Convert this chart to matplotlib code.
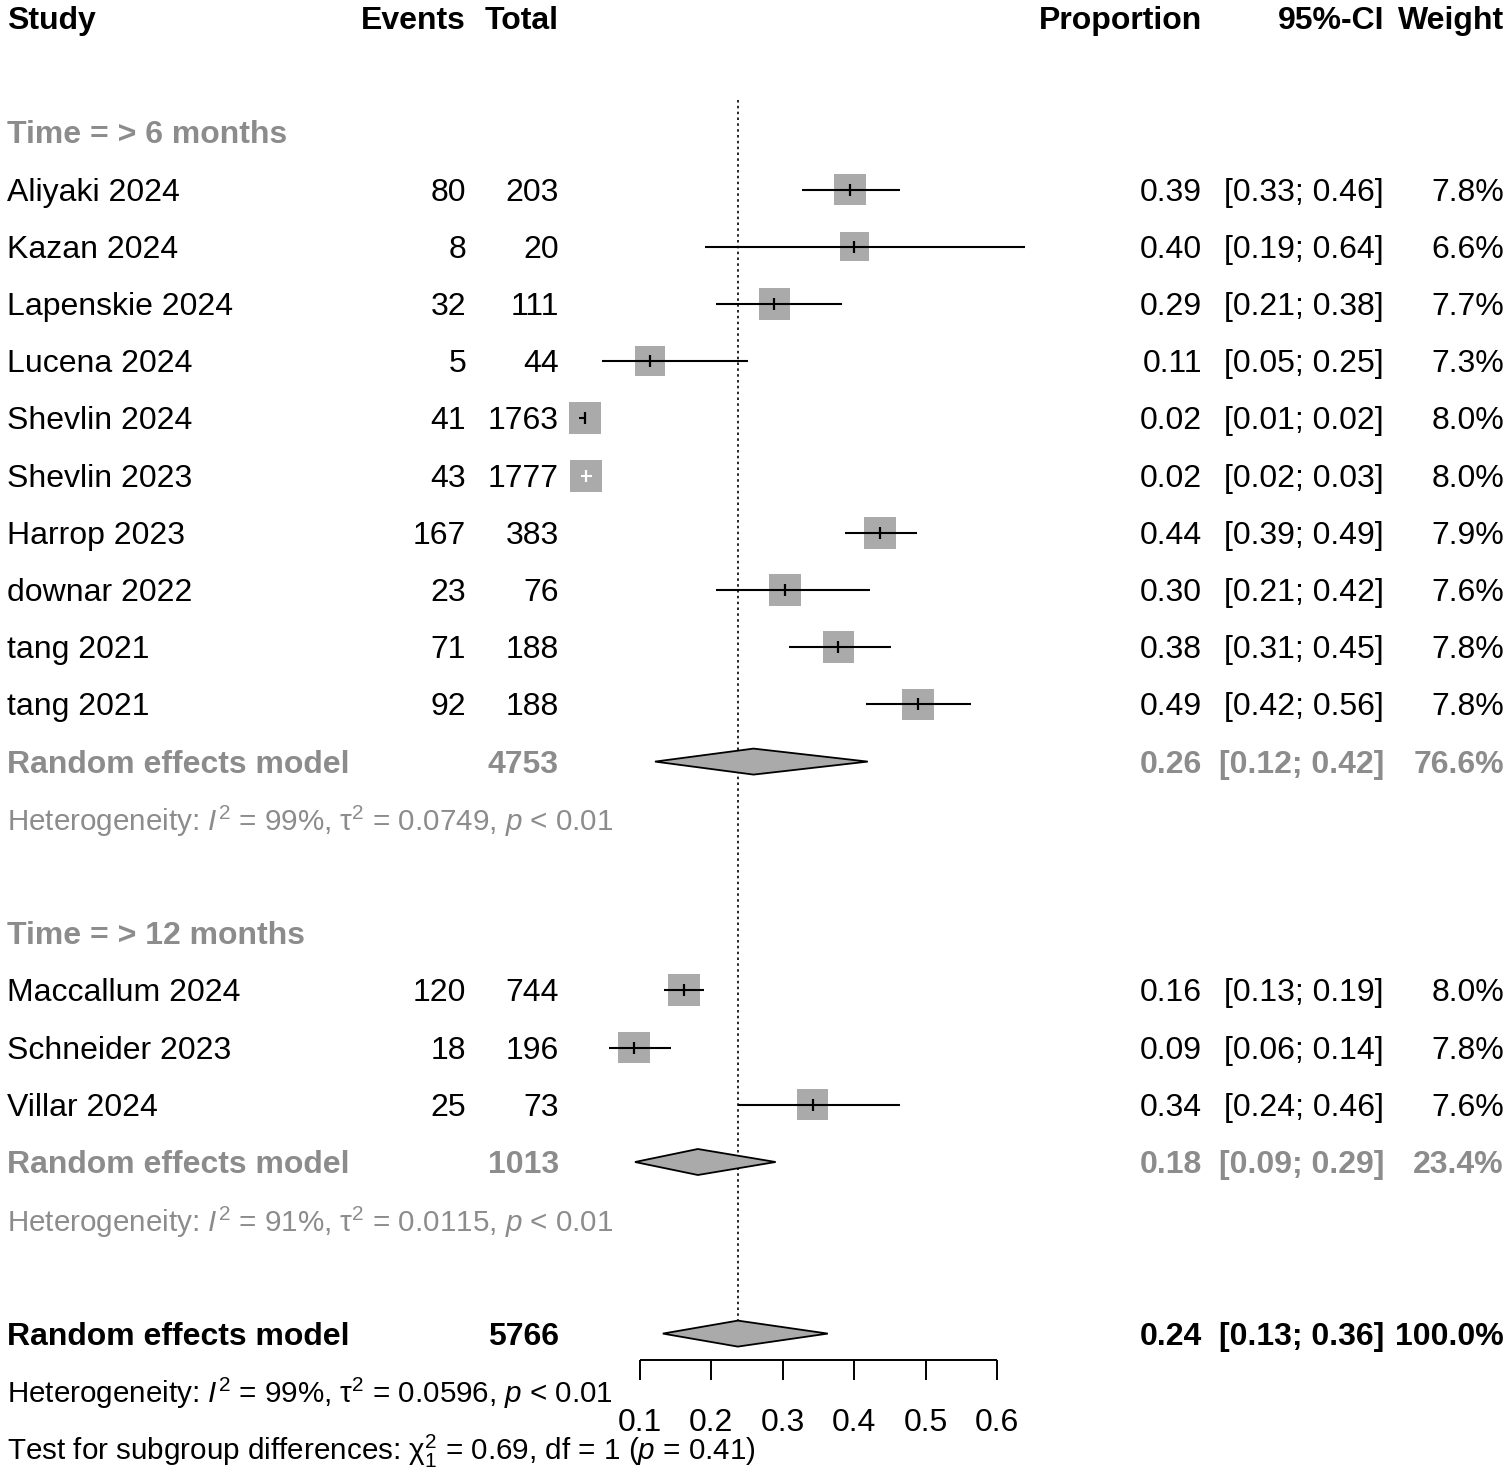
import numpy as np
import matplotlib
matplotlib.use("Agg")
import matplotlib.pyplot as plt
from matplotlib.patches import Rectangle, Polygon

plt.rcParams['font.family'] = ['Liberation Sans', 'DejaVu Sans']
plt.rcParams['mathtext.fontset'] = 'custom'
plt.rcParams['mathtext.rm'] = 'Liberation Sans'
plt.rcParams['mathtext.it'] = 'Liberation Sans:italic'
plt.rcParams['mathtext.bf'] = 'Liberation Sans:bold'

# ---- data ----
group_names = ["Time = > 6 months", "Time = > 12 months"]

studies_1 = ["Aliyaki 2024", "Kazan 2024", "Lapenskie 2024", "Lucena 2024",
             "Shevlin 2024", "Shevlin 2023", "Harrop 2023", "downar 2022",
             "tang 2021", "tang 2021"]
events_1 = [80, 8, 32, 5, 41, 43, 167, 23, 71, 92]
total_1 = [203, 20, 111, 44, 1763, 1777, 383, 76, 188, 188]
prop_1 = [0.394, 0.400, 0.288, 0.114, 0.023, 0.024, 0.436, 0.303, 0.378, 0.489]
lo_1 = [0.327, 0.191, 0.207, 0.047, 0.014, 0.018, 0.387, 0.207, 0.309, 0.417]
hi_1 = [0.464, 0.639, 0.383, 0.251, 0.024, 0.033, 0.488, 0.422, 0.452, 0.564]
weight_1 = [7.8, 6.6, 7.7, 7.3, 8.0, 8.0, 7.9, 7.6, 7.8, 7.8]

studies_2 = ["Maccallum 2024", "Schneider 2023", "Villar 2024"]
events_2 = [120, 18, 25]
total_2 = [744, 196, 73]
prop_2 = [0.161, 0.092, 0.342]
lo_2 = [0.134, 0.057, 0.237]
hi_2 = [0.190, 0.143, 0.464]
weight_2 = [8.0, 7.8, 7.6]

# random effects pooled estimates (subgroup 1, subgroup 2, overall)
pooled_n = [4753, 1013, 5766]
pooled_est = [0.259, 0.181, 0.237]
pooled_lo = [0.121, 0.093, 0.132]
pooled_hi = [0.419, 0.290, 0.363]
pooled_w = [76.6, 23.4, 100.0]
het_i2 = [99, 91, 99]
het_tau2 = ["0.0749", "0.0115", "0.0596"]

axis_ticks = [0.1, 0.2, 0.3, 0.4, 0.5, 0.6]

# ---- layout ----
W, H = 1512, 1474
fig = plt.figure(figsize=(W / 100, H / 100), dpi=100)
ax = fig.add_axes([0, 0, 1, 1])
x0px, pxper = 568.6, 714.0      # pixel of p=0, pixels per unit proportion
y0px, rowpx = 18.0, 57.2        # pixel of row 0, pixels per row
ax.set_xlim(-x0px / pxper, (W - x0px) / pxper)
ax.set_ylim((H - y0px) / rowpx, -y0px / rowpx)
ax.axis('off')

ty = ax.get_yaxis_transform()   # x in axes fraction, y in rows
FS = 23
FS_HET = 21.3
GRAY = '#8C8C8C'
SQ = '#AAAAAA'
DY = 3.0 / rowpx                # nudge text down to sit like R's text

col_study = 7 / W
col_events = 466 / W
col_total = 559 / W
col_prop = 1202 / W
col_ci = 1384 / W
col_w = 1504 / W


def txt(x, y, s, ha='left', fs=FS, **kw):
    ax.text(x, y + DY, s, ha=ha, va='center', transform=ty, fontsize=fs, **kw)


# header
txt(col_study, 0, "Study", fontweight='bold')
txt(col_events, 0, "Events", ha='right', fontweight='bold')
txt(col_total, 0, "Total", ha='right', fontweight='bold')
txt(col_prop, 0, "Proportion", ha='right', fontweight='bold')
txt(col_ci, 0, "95%-CI", ha='right', fontweight='bold')
txt(col_w, 0, "Weight", ha='right', fontweight='bold')

maxw = 8.0
sq_px = 32.0


def draw_study(r, name, ev, tot, p, lo, hi, w, inner='black'):
    txt(col_study, r, name)
    txt(col_events, r, str(ev), ha='right')
    txt(col_total, r, str(tot), ha='right')
    txt(col_prop, r, "%.2f" % p, ha='right')
    txt(col_ci, r, "[%.2f; %.2f]" % (lo, hi), ha='right')
    txt(col_w, r, "%.1f%%" % w, ha='right')
    side = sq_px * np.sqrt(w / maxw)
    dx = side / pxper
    dy = side / rowpx
    ax.add_patch(Rectangle((p - dx / 2, r - dy / 2), dx, dy, facecolor=SQ,
                           edgecolor='none', zorder=2))
    ax.plot([lo, hi], [r, r], color=inner, lw=1.5, zorder=3,
            solid_capstyle='butt')
    ax.plot([p], [r], marker='|', color=inner, markersize=9, mew=1.6, zorder=4)


def draw_diamond(r, est, lo, hi):
    hh = 13.0 / rowpx
    ax.add_patch(Polygon([[lo, r], [est, r - hh], [hi, r], [est, r + hh]],
                         closed=True, facecolor=SQ, edgecolor='black',
                         lw=1.3, zorder=3))


def het_text(r, i2, tau2, color):
    s = ("Heterogeneity: $I^{2}$ = %d%%, τ${}^{2}$ = %s, $p$ < 0.01"
         % (i2, tau2))
    txt(col_study, r, s, fs=FS_HET, color=color)


def pooled_row(r, k, color):
    txt(col_study, r, "Random effects model", color=color, fontweight='bold')
    txt(col_total, r, str(pooled_n[k]), ha='right', color=color, fontweight='bold')
    txt(col_prop, r, "%.2f" % pooled_est[k], ha='right', color=color, fontweight='bold')
    txt(col_ci, r, "[%.2f; %.2f]" % (pooled_lo[k], pooled_hi[k]), ha='right',
        color=color, fontweight='bold')
    txt(col_w, r, "%.1f%%" % pooled_w[k], ha='right', color=color, fontweight='bold')
    draw_diamond(r, pooled_est[k], pooled_lo[k], pooled_hi[k])


# inner CI colour: white where the interval sits inside the square
inner_1 = ['black'] * 5 + ['white'] + ['black'] * 4
inner_2 = ['black'] * 3

# subgroup 1
txt(col_study, 2, group_names[0], color=GRAY, fontweight='bold')
for i in range(len(studies_1)):
    draw_study(3 + i, studies_1[i], events_1[i], total_1[i], prop_1[i],
               lo_1[i], hi_1[i], weight_1[i], inner_1[i])
r = 3 + len(studies_1)
pooled_row(r, 0, GRAY)
het_text(r + 1, het_i2[0], het_tau2[0], GRAY)

# subgroup 2
g2 = r + 3
txt(col_study, g2, group_names[1], color=GRAY, fontweight='bold')
for i in range(len(studies_2)):
    draw_study(g2 + 1 + i, studies_2[i], events_2[i], total_2[i], prop_2[i],
               lo_2[i], hi_2[i], weight_2[i], inner_2[i])
r = g2 + 1 + len(studies_2)
pooled_row(r, 1, GRAY)
het_text(r + 1, het_i2[1], het_tau2[1], GRAY)

# overall
ro = r + 3
pooled_row(ro, 2, 'black')
het_text(ro + 1, het_i2[2], het_tau2[2], 'black')
txt(col_study, ro + 2,
    "Test for subgroup differences: χ${}^{2}_{1}$ = 0.69, df = 1 ($p$ = 0.41)",
    fs=FS_HET)

# dotted reference line at the overall estimate
ax.plot([pooled_est[2], pooled_est[2]], [(100 - y0px) / rowpx, ro - 13.0 / rowpx],
        color='black', lw=1.2, ls=(0, (1.5, 2.0)), zorder=1)

# x axis
ya = (1360 - y0px) / rowpx
ytick = (1380 - y0px) / rowpx
ylab = (1420 - y0px) / rowpx
ax.plot([axis_ticks[0], axis_ticks[-1]], [ya, ya], color='black', lw=1.4,
        solid_capstyle='butt')
for t in axis_ticks:
    ax.plot([t, t], [ya, ytick], color='black', lw=1.4, solid_capstyle='butt')
    ax.text(t, ylab + DY, "%.1f" % t, ha='center', va='center', fontsize=FS)

fig.savefig("out.png", dpi=100)
